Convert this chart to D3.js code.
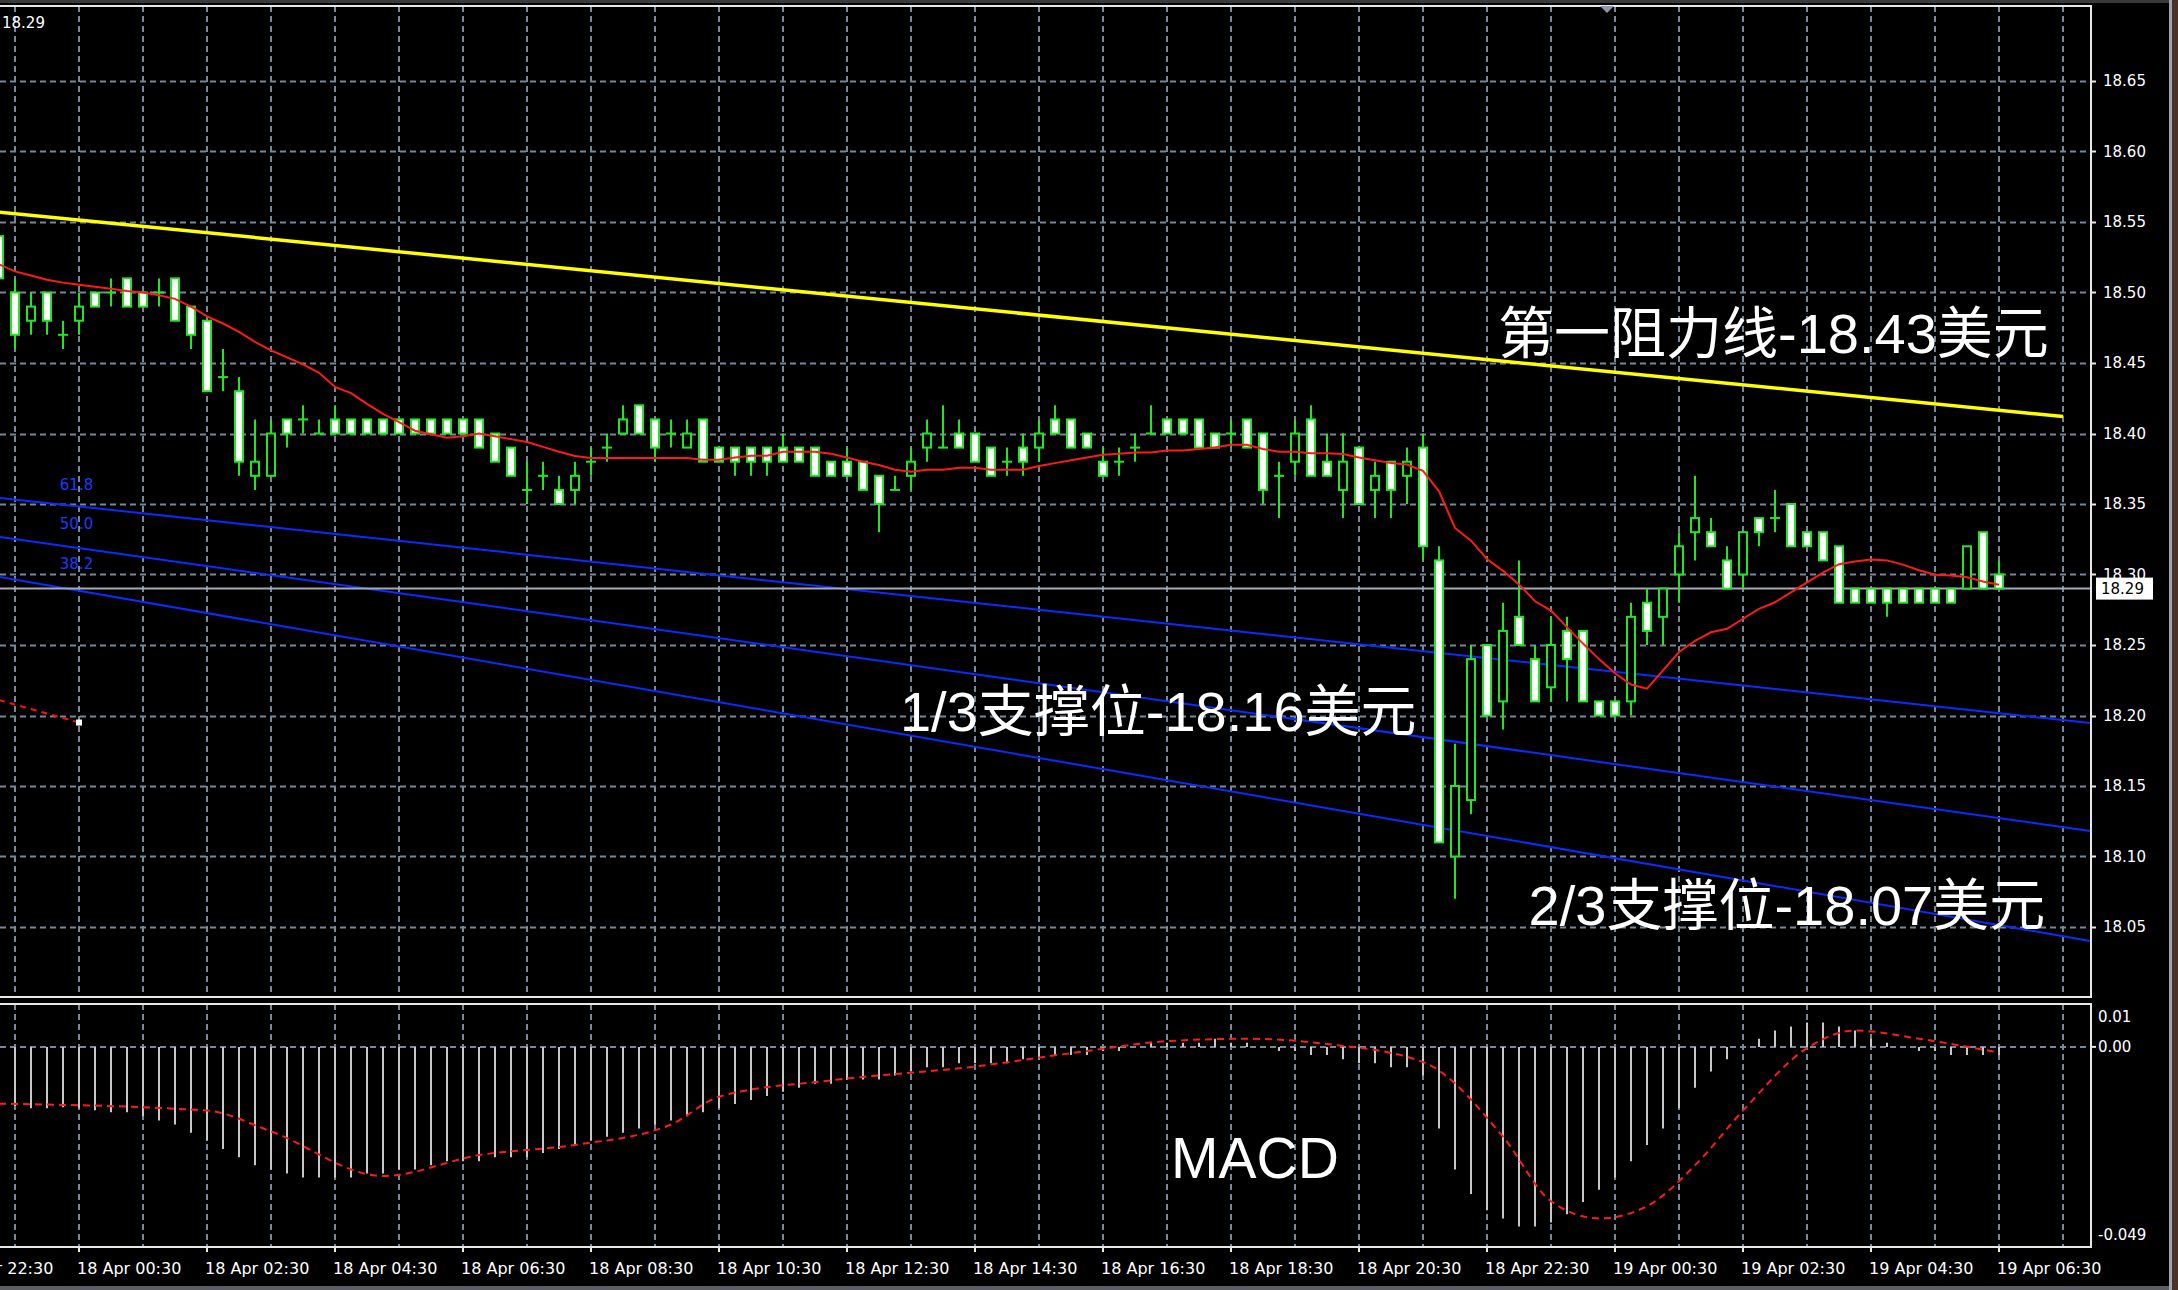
<!DOCTYPE html>
<html>
<head>
<meta charset="utf-8">
<script src="https://cdn.jsdelivr.net/npm/d3@7"></script>
<style>
  html, body { margin: 0; padding: 0; background: #000; overflow: hidden; }
  svg { display: block; }
</style>
</head>
<body>
<svg id="chart" width="2178" height="1290"></svg>
<script>
// XAGUSD M15 candles. Bar index 0 = 18 Apr 00:30, one step = 15 minutes.
const firstBar = -5;

const opens = [
  18.54,18.50,18.48,18.50,18.47,18.48,18.50,18.50,18.51,18.50,
  18.50,18.51,18.49,18.48,18.44,18.43,18.37,18.37,18.41,18.41,
  18.40,18.41,18.41,18.41,18.41,18.41,18.41,18.41,18.41,18.41,
  18.41,18.40,18.39,18.36,18.37,18.36,18.36,18.38,18.39,18.40,
  18.42,18.41,18.40,18.39,18.41,18.39,18.39,18.39,18.39,18.39,
  18.39,18.39,18.38,18.38,18.38,18.37,18.36,18.37,18.39,18.39,
  18.40,18.40,18.39,18.38,18.39,18.39,18.41,18.41,18.40,18.38,
  18.38,18.39,18.40,18.41,18.41,18.41,18.40,18.40,18.41,18.40,
  18.37,18.38,18.41,18.38,18.36,18.39,18.36,18.38,18.37,18.39,
  18.31,18.10,18.14,18.25,18.21,18.27,18.24,18.22,18.26,18.26,
  18.21,18.21,18.21,18.28,18.27,18.30,18.33,18.33,18.31,18.30,
  18.34,18.34,18.35,18.33,18.33,18.32,18.29,18.29,18.29,18.29,
  18.29,18.29,18.29,18.29,18.33,18.30
];
const highs = [
  18.54,18.51,18.50,18.50,18.48,18.50,18.50,18.51,18.51,18.50,
  18.51,18.51,18.49,18.48,18.46,18.44,18.41,18.41,18.41,18.42,
  18.41,18.42,18.41,18.41,18.41,18.41,18.41,18.41,18.41,18.41,
  18.41,18.40,18.39,18.38,18.38,18.37,18.38,18.39,18.40,18.42,
  18.42,18.41,18.41,18.41,18.41,18.39,18.39,18.39,18.39,18.40,
  18.39,18.39,18.38,18.39,18.38,18.37,18.37,18.39,18.41,18.42,
  18.41,18.40,18.39,18.39,18.40,18.41,18.42,18.41,18.40,18.39,
  18.39,18.40,18.42,18.41,18.41,18.41,18.40,18.41,18.41,18.40,
  18.38,18.41,18.42,18.40,18.40,18.39,18.38,18.38,18.39,18.40,
  18.32,18.18,18.25,18.25,18.28,18.31,18.25,18.27,18.27,18.26,
  18.21,18.21,18.28,18.29,18.29,18.33,18.37,18.34,18.32,18.33,
  18.34,18.36,18.35,18.33,18.33,18.32,18.29,18.29,18.29,18.29,
  18.29,18.29,18.29,18.32,18.33,18.31
];
const lows = [
  18.50,18.46,18.47,18.47,18.46,18.47,18.49,18.49,18.49,18.49,
  18.49,18.48,18.46,18.43,18.43,18.37,18.36,18.37,18.39,18.40,
  18.40,18.40,18.40,18.40,18.40,18.40,18.40,18.40,18.40,18.40,
  18.39,18.38,18.37,18.35,18.36,18.35,18.35,18.37,18.38,18.40,
  18.40,18.38,18.39,18.39,18.38,18.38,18.37,18.37,18.37,18.38,
  18.38,18.37,18.37,18.37,18.36,18.33,18.36,18.36,18.38,18.39,
  18.39,18.38,18.37,18.37,18.37,18.38,18.40,18.39,18.39,18.37,
  18.37,18.38,18.40,18.40,18.40,18.39,18.39,18.39,18.39,18.35,
  18.34,18.37,18.37,18.37,18.34,18.35,18.34,18.34,18.35,18.31,
  18.11,18.07,18.13,18.20,18.19,18.25,18.21,18.21,18.21,18.21,
  18.20,18.20,18.20,18.25,18.25,18.28,18.31,18.32,18.29,18.29,
  18.32,18.33,18.32,18.32,18.31,18.28,18.28,18.28,18.27,18.28,
  18.28,18.28,18.28,18.29,18.29,18.29
];
const closes = [
  18.51,18.47,18.49,18.48,18.47,18.49,18.49,18.50,18.49,18.49,
  18.50,18.48,18.47,18.43,18.44,18.38,18.38,18.40,18.40,18.41,
  18.40,18.40,18.40,18.40,18.40,18.40,18.40,18.40,18.40,18.40,
  18.39,18.38,18.37,18.36,18.37,18.35,18.37,18.38,18.39,18.41,
  18.40,18.39,18.40,18.40,18.38,18.38,18.38,18.38,18.38,18.38,
  18.38,18.37,18.37,18.37,18.36,18.35,18.36,18.38,18.40,18.39,
  18.39,18.38,18.37,18.38,18.38,18.40,18.40,18.39,18.39,18.37,
  18.38,18.39,18.40,18.40,18.40,18.39,18.39,18.40,18.39,18.36,
  18.37,18.40,18.37,18.37,18.38,18.35,18.37,18.36,18.38,18.32,
  18.11,18.15,18.24,18.20,18.26,18.25,18.21,18.25,18.24,18.21,
  18.20,18.20,18.27,18.26,18.29,18.32,18.34,18.32,18.29,18.33,
  18.33,18.34,18.32,18.32,18.31,18.28,18.28,18.28,18.28,18.28,
  18.28,18.28,18.28,18.32,18.29,18.29
];
// red moving average over the candles
const maValues = [
  18.520,18.515,18.512,18.509,18.507,18.5055,18.504,18.5026,18.501,18.500,
  18.498,18.4955,18.490,18.483,18.478,18.472,18.465,18.459,18.454,18.449,
  18.443,18.433,18.4286,18.421,18.414,18.408,18.402,18.3995,18.397,18.398,
  18.400,18.398,18.396,18.394,18.3905,18.387,18.384,18.3826,18.3826,18.3826,
  18.3826,18.3826,18.3826,18.3826,18.3814,18.3814,18.383,18.3843,18.3843,18.387,
  18.387,18.387,18.3857,18.383,18.380,18.3776,18.3743,18.3729,18.3743,18.3743,
  18.3757,18.3757,18.3743,18.3743,18.3743,18.377,18.379,18.381,18.383,18.385,
  18.3857,18.3865,18.3865,18.388,18.388,18.389,18.390,18.392,18.392,18.389,
  18.387,18.387,18.386,18.386,18.3855,18.383,18.381,18.379,18.378,18.3735,
  18.359,18.333,18.324,18.311,18.3026,18.293,18.281,18.2744,18.2627,18.251,
  18.240,18.230,18.222,18.219,18.232,18.245,18.253,18.259,18.2615,18.2686,
  18.2756,18.2803,18.2873,18.2944,18.3014,18.3073,18.3092,18.3106,18.310,18.307,
  18.303,18.2998,18.2993,18.298,18.295,18.2927
];
// MACD main (histogram), one value per bar
const macdMain = [
  -0.0145,-0.0145,-0.0150,-0.0150,-0.0148,-0.0150,-0.0155,-0.0160,-0.0160,-0.0170,
  -0.0180,-0.0190,-0.0210,-0.0230,-0.0250,-0.0270,-0.0290,-0.0300,-0.0310,-0.0320,
  -0.0320,-0.0320,-0.0320,-0.0310,-0.0310,-0.0300,-0.0300,-0.0290,-0.0280,-0.0280,
  -0.0280,-0.0270,-0.0270,-0.0270,-0.0260,-0.0250,-0.0240,-0.0230,-0.0220,-0.0210,
  -0.0200,-0.0190,-0.0180,-0.0170,-0.0160,-0.0150,-0.0140,-0.0130,-0.0120,-0.0110,
  -0.0100,-0.0090,-0.0090,-0.0080,-0.0080,-0.0080,-0.0070,-0.0060,-0.0050,-0.0050,
  -0.0040,-0.0040,-0.0040,-0.0040,-0.0030,-0.0030,-0.0020,-0.0020,-0.0020,-0.0010,
  -0.0010,0.0000,0.0010,0.0010,0.0010,0.0010,0.0020,0.0010,0.0010,0.0000,
  -0.0010,-0.0010,-0.0020,-0.0020,-0.0030,-0.0040,-0.0040,-0.0050,-0.0050,-0.0070,
  -0.0200,-0.0300,-0.0360,-0.0400,-0.0420,-0.0440,-0.0440,-0.0430,-0.0410,-0.0380,
  -0.0350,-0.0320,-0.0280,-0.0240,-0.0200,-0.0150,-0.0100,-0.0060,-0.0030,0.0000,
  0.0020,0.0040,0.0050,0.0060,0.0060,0.0050,0.0040,0.0020,0.0010,0.0000,
  -0.0010,-0.0010,-0.0020,-0.0020,-0.0020,-0.0020
];
// MACD signal line, read at these bars
const signalBars =   [-5, 8, 12, 19, 25, 31, 37, 40, 47, 56, 63, 68, 73, 78, 84, 89, 92, 95, 98, 101, 104, 108, 111, 115, 120];
const signalValues = [-0.0139,-0.0156,-0.0207,-0.0316,-0.0265,-0.0240,-0.0190,-0.0122,-0.0082,-0.0048,-0.0010,0.0014,0.0020,0.0007,-0.0037,-0.0220,-0.0378,-0.0420,-0.0390,-0.0290,-0.0156,-0.0003,0.0040,0.0020,-0.0014];

const priceTicks = [18.05,18.10,18.15,18.20,18.25,18.30,18.35,18.40,18.45,18.50,18.55,18.60,18.65];
const timeTickBars = [-8,0,8,16,24,32,40,48,56,64,72,80,88,96,104,112,120];
const timeTickLabels = [
  "17 Apr 22:30","18 Apr 00:30","18 Apr 02:30","18 Apr 04:30","18 Apr 06:30","18 Apr 08:30",
  "18 Apr 10:30","18 Apr 12:30","18 Apr 14:30","18 Apr 16:30","18 Apr 18:30","18 Apr 20:30",
  "18 Apr 22:30","19 Apr 00:30","19 Apr 02:30","19 Apr 04:30","19 Apr 06:30"
];
const macdTicks = ["0.01","0.00","-0.049"];
const lastPrice = 18.29;

// resistance trend line (bar, price) and Fibonacci fan rays
const resistanceLine = [[-5, 18.557], [124, 18.412]];
const fanLevels = ["61.8", "50.0", "38.2"];
const fanLines = [
  [[-4.94, 18.3543], [125.7, 18.1947]],
  [[-4.94, 18.3266], [125.7, 18.1181]],
  [[-4.94, 18.2982], [125.7, 18.0401]]
];
const oldTrail = [[-5, 18.211], [0, 18.195]];

const annotations = [
  { text: "第一阻力线-18.43美元", bar: 88.69, price: 18.4571 },
  { text: "1/3支撑位-18.16美元", bar: 51.31, price: 18.189 },
  { text: "2/3支撑位-18.07美元", bar: 90.6, price: 18.0515 }
];

// ---------- layout ----------
const W = 2178, H = 1290;
const plotRight = 2091;
const mainTop = 6, mainBottom = 997;
const macdTop = 1004, macdBottom = 1247;

const x = d3.scaleLinear().domain([0, 120]).range([79, 1999]);
const y = d3.scaleLinear().domain([18.05, 18.65]).range([927, 81]);
const yM = d3.scaleLinear().domain([-0.049, 0.0105]).range([macdBottom, macdTop]);

const GRID = "#778899";
const LIME = "#22e622";
const AXISFONT = "DejaVu Sans, Verdana, sans-serif";
const LABELFONT = "'Liberation Sans', 'Noto Sans CJK SC', sans-serif";

const svg = d3.select("#chart");
svg.append("rect").attr("width", W).attr("height", H).attr("fill", "#000");

const defs = svg.append("defs");
defs.append("clipPath").attr("id", "clipMain").append("rect")
  .attr("x", 0).attr("y", mainTop).attr("width", plotRight).attr("height", mainBottom - mainTop);
defs.append("clipPath").attr("id", "clipMacd").append("rect")
  .attr("x", 0).attr("y", macdTop).attr("width", plotRight).attr("height", macdBottom - macdTop);

// window edge decoration
svg.append("rect").attr("x", 0).attr("y", 0).attr("width", W).attr("height", 3).attr("fill", "#3a3a3a");
svg.append("rect").attr("x", 2169).attr("y", 0).attr("width", 3).attr("height", H).attr("fill", "#9aa4ae");
svg.append("rect").attr("x", 2172).attr("y", 0).attr("width", 6).attr("height", H).attr("fill", "#4a3229");
svg.append("rect").attr("x", 0).attr("y", 1286).attr("width", 2169).attr("height", 4).attr("fill", "#5a5f66");

// ---------- grids ----------
const gridBars = d3.range(-4, 128, 4);
const main = svg.append("g").attr("clip-path", "url(#clipMain)");
const macd = svg.append("g").attr("clip-path", "url(#clipMacd)");

main.selectAll("line.hg").data(priceTicks).join("line")
  .attr("x1", 0).attr("x2", plotRight)
  .attr("y1", d => Math.round(y(d)) + 0.5).attr("y2", d => Math.round(y(d)) + 0.5)
  .attr("stroke", GRID).attr("stroke-width", 2).attr("stroke-dasharray", "6,4");
main.selectAll("line.vg").data(gridBars).join("line")
  .attr("x1", d => x(d)).attr("x2", d => x(d))
  .attr("y1", mainTop).attr("y2", mainBottom)
  .attr("stroke", GRID).attr("stroke-width", 2).attr("stroke-dasharray", "6,4");

macd.selectAll("line.vg").data(gridBars).join("line")
  .attr("x1", d => x(d)).attr("x2", d => x(d))
  .attr("y1", macdTop).attr("y2", macdBottom)
  .attr("stroke", GRID).attr("stroke-width", 2).attr("stroke-dasharray", "6,4");
macd.append("line")
  .attr("x1", 0).attr("x2", plotRight).attr("y1", yM(0)).attr("y2", yM(0))
  .attr("stroke", GRID).attr("stroke-width", 2).attr("stroke-dasharray", "6,4");

// ---------- objects on the price window ----------
const ptLine = d3.line().x(d => x(d[0])).y(d => y(d[1]));

main.append("path").datum(oldTrail).attr("d", ptLine)
  .attr("fill", "none").attr("stroke", "#ff1010").attr("stroke-width", 2).attr("stroke-dasharray", "6,5");
main.append("rect")
  .attr("x", x(oldTrail[1][0]) - 3).attr("y", y(oldTrail[1][1]) - 3)
  .attr("width", 6).attr("height", 6).attr("fill", "#fff");

main.selectAll("path.fan").data(fanLines).join("path")
  .attr("d", ptLine).attr("fill", "none").attr("stroke", "#0a2cff").attr("stroke-width", 2);
main.selectAll("text.fan").data(fanLevels).join("text")
  .attr("x", x(-1.2)).attr("y", (d, i) => y(fanLines[i][0][1]) - 13 + 5)
  .attr("fill", "#1a3cff").attr("font-family", AXISFONT).attr("font-size", 15)
  .text(d => d);

// last price line
main.append("line")
  .attr("x1", 0).attr("x2", plotRight).attr("y1", y(lastPrice)).attr("y2", y(lastPrice))
  .attr("stroke", "#a3abb3").attr("stroke-width", 2);

main.append("path").datum(resistanceLine).attr("d", ptLine)
  .attr("fill", "none").attr("stroke", "#ffff00").attr("stroke-width", 3.5);

// ---------- candles ----------
const bars = opens.map((o, i) => ({ k: firstBar + i, o, h: highs[i], l: lows[i], c: closes[i] }));
const cg = main.append("g");
cg.selectAll("line.wick").data(bars).join("line")
  .attr("x1", d => x(d.k)).attr("x2", d => x(d.k))
  .attr("y1", d => y(d.h)).attr("y2", d => y(d.l))
  .attr("stroke", LIME).attr("stroke-width", 2);
const bodyW = 8;
cg.selectAll("rect.body").data(bars.filter(d => d.o !== d.c)).join("rect")
  .attr("x", d => x(d.k) - bodyW / 2)
  .attr("y", d => y(Math.max(d.o, d.c)))
  .attr("width", bodyW)
  .attr("height", d => y(Math.min(d.o, d.c)) - y(Math.max(d.o, d.c)))
  .attr("fill", d => d.c < d.o ? "#ffffff" : "#000000")
  .attr("stroke", LIME).attr("stroke-width", 2);
cg.selectAll("line.doji").data(bars.filter(d => d.o === d.c)).join("line")
  .attr("x1", d => x(d.k) - bodyW / 2 - 1).attr("x2", d => x(d.k) + bodyW / 2 + 1)
  .attr("y1", d => y(d.o)).attr("y2", d => y(d.o))
  .attr("stroke", LIME).attr("stroke-width", 2);

// moving average
main.append("path").datum(maValues)
  .attr("d", d3.line().x((d, i) => x(firstBar + i)).y(d => y(d)))
  .attr("fill", "none").attr("stroke", "#ff1a1a").attr("stroke-width", 2);

// ---------- MACD window ----------
macd.selectAll("line.hist").data(macdMain).join("line")
  .attr("x1", (d, i) => x(firstBar + i)).attr("x2", (d, i) => x(firstBar + i))
  .attr("y1", yM(0)).attr("y2", d => yM(d))
  .attr("stroke", "#c8c8c8").attr("stroke-width", 2);
macd.append("path").datum(signalBars.map((b, i) => [b, signalValues[i]]))
  .attr("d", d3.line().curve(d3.curveMonotoneX).x(d => x(d[0])).y(d => yM(d[1])))
  .attr("fill", "none").attr("stroke", "#ff1a1a").attr("stroke-width", 2).attr("stroke-dasharray", "7,5");

// ---------- frames ----------
const frame = svg.append("g").attr("fill", "none").attr("stroke", "#e8e8e8").attr("stroke-width", 2);
frame.append("path").attr("d", `M0,${mainTop} H${plotRight} V${mainBottom} H0`);
frame.append("path").attr("d", `M0,${macdTop} H${plotRight} V${macdBottom} H0`);

// top marker
svg.append("path").attr("d", "M1600,6 L1614,6 L1607,13 Z").attr("fill", "#8d98a4");

// ---------- axes ----------
const priceAxis = svg.append("g");
priceAxis.selectAll("line").data(priceTicks).join("line")
  .attr("x1", plotRight).attr("x2", plotRight + 5)
  .attr("y1", d => Math.round(y(d)) + 0.5).attr("y2", d => Math.round(y(d)) + 0.5)
  .attr("stroke", "#e8e8e8").attr("stroke-width", 2);
priceAxis.selectAll("text").data(priceTicks).join("text")
  .attr("x", 2103).attr("y", d => y(d)).attr("dy", "0.36em")
  .attr("fill", "#fff").attr("font-family", AXISFONT).attr("font-size", 15)
  .text(d => d.toFixed(2));

// last price tag
svg.append("rect").attr("x", 2096).attr("y", y(lastPrice) - 11).attr("width", 57).attr("height", 22).attr("fill", "#fff");
svg.append("text").attr("x", 2101).attr("y", y(lastPrice)).attr("dy", "0.36em")
  .attr("fill", "#000").attr("font-family", AXISFONT).attr("font-size", 15).text(lastPrice.toFixed(2));

// top-left price readout
svg.append("text").attr("x", 2).attr("y", 28)
  .attr("fill", "#fff").attr("font-family", AXISFONT).attr("font-size", 15).text(lastPrice.toFixed(2));

// MACD scale
const macdAxis = svg.append("g").attr("fill", "#fff").attr("font-family", AXISFONT).attr("font-size", 15);
macdAxis.append("text").attr("x", 2098).attr("y", 1017).attr("dy", "0.36em").text(macdTicks[0]);
macdAxis.append("text").attr("x", 2098).attr("y", yM(0)).attr("dy", "0.36em").text(macdTicks[1]);
macdAxis.append("text").attr("x", 2098).attr("y", 1235).attr("dy", "0.36em").text(macdTicks[2]);
svg.append("line").attr("x1", plotRight).attr("x2", plotRight + 5).attr("y1", yM(0)).attr("y2", yM(0))
  .attr("stroke", "#e8e8e8").attr("stroke-width", 2);

// time axis
const timeAxis = svg.append("g");
timeAxis.selectAll("line").data(timeTickBars).join("line")
  .attr("x1", d => x(d)).attr("x2", d => x(d))
  .attr("y1", macdBottom).attr("y2", macdBottom + 5)
  .attr("stroke", "#e8e8e8").attr("stroke-width", 2);
timeAxis.selectAll("text").data(timeTickBars).join("text")
  .attr("x", d => x(d) - 2).attr("y", 1274)
  .attr("fill", "#fff").attr("font-family", AXISFONT).attr("font-size", 16)
  .text((d, i) => timeTickLabels[i]);

// ---------- annotation texts ----------
const ann = svg.append("g").attr("fill", "#fff")
  .attr("font-family", LABELFONT).attr("font-size", 56);
ann.selectAll("text").data(annotations).join("text")
  .attr("x", d => x(d.bar)).attr("y", d => y(d.price))
  .text(d => d.text);
ann.append("text").attr("x", 1171).attr("y", 1178).attr("font-size", 57).text("MACD");
</script>
</body>
</html>
